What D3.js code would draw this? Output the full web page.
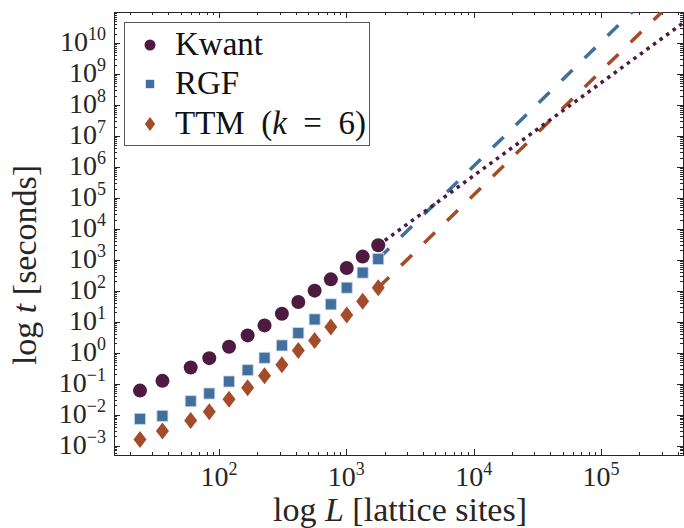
<!DOCTYPE html>
<html>
<head>
<meta charset="utf-8">
<script src="https://cdn.jsdelivr.net/npm/d3@7/dist/d3.min.js"></script>
<style>
  body { margin: 0; background: #fff; }
  svg { display: block; }
</style>
</head>
<body>
<svg id="chart" width="684" height="528"></svg>
<script>
// lattice sizes L and timings t (seconds)
const sizes = [24, 36, 60, 84, 120, 168, 228, 312, 420, 564, 756, 1008, 1344, 1782];
const kwant = [0.060, 0.124, 0.335, 0.668, 1.56, 3.63, 7.63, 18.2, 43.3, 101, 234, 544, 1270, 2945];
const rgf = [0.00735, 0.00919, 0.0272, 0.0483, 0.118, 0.274, 0.689, 1.72, 4.30, 11.9, 36.5, 126, 386, 1065];
const ttm = [0.00157, 0.0030, 0.00647, 0.01236, 0.0316, 0.0738, 0.180, 0.409, 1.19, 2.5, 6.72, 16.4, 45.6, 126];

// extrapolated fits [L, t]
const kwantFit = [[1782, 2945], [4.4e5, 4.4e10]];
const rgfFit = [[1782, 1065], [1.75e5, 1e11]];
const ttmFit = [[1782, 126], [3.0e5, 1e11]];

const xTickExp = [2, 3, 4, 5];
const yTickExp = [-3, -2, -1, 0, 1, 2, 3, 4, 5, 6, 7, 8, 9, 10];

const colors = { kwant: '#4f1a3f', rgf: '#41709e', ttm: '#a44b29' };
const FONT = "'Liberation Serif', 'DejaVu Serif', serif";

const svg = d3.select('#chart')
    .attr('font-family', FONT);
const plot = { left: 114, right: 683, top: 12, bottom: 455 };

const x = d3.scaleLog().domain([15, 4.4e5]).range([plot.left, plot.right]);
const y = d3.scaleLog().domain([5e-4, 1e11]).range([plot.bottom, plot.top]);

svg.append('defs').append('clipPath').attr('id', 'clip')
    .append('rect')
    .attr('x', plot.left).attr('y', plot.top)
    .attr('width', plot.right - plot.left).attr('height', plot.bottom - plot.top);

// ticks (inside, all four sides)
const axisColor = '#262626';
const ticks = svg.append('g').attr('stroke', axisColor).attr('stroke-width', 1);

const xMinor = [];
for (let e = 1; e <= 5; e++) for (let m = 2; m <= 9; m++) {
    const v = m * Math.pow(10, e);
    if (v > x.domain()[0] && v < x.domain()[1]) xMinor.push(v);
}
const yMinor = [];
for (let e = -4; e <= 10; e++) for (let m = 2; m <= 9; m++) {
    const v = m * Math.pow(10, e);
    if (v > y.domain()[0] && v < y.domain()[1]) yMinor.push(v);
}

const xTicks = xTickExp.map(e => ({ v: Math.pow(10, e), len: 6 }))
    .concat(xMinor.map(v => ({ v, len: 3 })));
const yTicks = yTickExp.map(e => ({ v: Math.pow(10, e), len: 6 }))
    .concat(yMinor.map(v => ({ v, len: 3 })));

ticks.selectAll('.xb').data(xTicks).enter().append('line')
    .attr('x1', d => Math.round(x(d.v)) + 0.5).attr('x2', d => Math.round(x(d.v)) + 0.5)
    .attr('y1', plot.bottom).attr('y2', d => plot.bottom - d.len);
ticks.selectAll('.xt').data(xTicks).enter().append('line')
    .attr('x1', d => Math.round(x(d.v)) + 0.5).attr('x2', d => Math.round(x(d.v)) + 0.5)
    .attr('y1', plot.top).attr('y2', d => plot.top + d.len);
ticks.selectAll('.yl').data(yTicks).enter().append('line')
    .attr('y1', d => Math.round(y(d.v)) + 0.5).attr('y2', d => Math.round(y(d.v)) + 0.5)
    .attr('x1', plot.left).attr('x2', d => plot.left + d.len);
ticks.selectAll('.yr').data(yTicks).enter().append('line')
    .attr('y1', d => Math.round(y(d.v)) + 0.5).attr('y2', d => Math.round(y(d.v)) + 0.5)
    .attr('x1', plot.right).attr('x2', d => plot.right - d.len);

svg.append('rect')
    .attr('x', plot.left + 0.5).attr('y', plot.top + 0.5)
    .attr('width', plot.right - plot.left).attr('height', plot.bottom - plot.top)
    .attr('fill', 'none').attr('stroke', axisColor).attr('stroke-width', 1);

// tick labels
const expText = e => (e < 0 ? '\u2212' + (-e) : String(e));

const xl = svg.append('g').selectAll('text').data(xTickExp).enter().append('text')
    .attr('font-family', FONT).attr('fill', axisColor)
    .attr('x', d => x(Math.pow(10, d)))
    .attr('y', 486)
    .attr('text-anchor', 'middle')
    .attr('font-size', 28);
xl.append('tspan').text('10');
xl.append('tspan').attr('dy', -11).attr('font-size', 18).text(d => expText(d));

const yl = svg.append('g').selectAll('text').data(yTickExp).enter().append('text')
    .attr('font-family', FONT).attr('fill', axisColor)
    .attr('x', 106)
    .attr('y', d => y(Math.pow(10, d)) + 8)
    .attr('text-anchor', 'end')
    .attr('font-size', 28);
yl.append('tspan').text('10');
yl.append('tspan').attr('dy', -11).attr('font-size', 18).text(d => expText(d));

// axis titles
const xt = svg.append('text')
    .attr('font-family', FONT).attr('fill', axisColor)
    .attr('x', 400).attr('y', 521)
    .attr('text-anchor', 'middle').attr('font-size', 34);
xt.append('tspan').text('log ');
xt.append('tspan').attr('font-style', 'italic').text('L');
xt.append('tspan').text(' [lattice sites]');

const yt = svg.append('text')
    .attr('font-family', FONT).attr('fill', axisColor)
    .attr('transform', 'translate(36,265) rotate(-90)')
    .attr('text-anchor', 'middle').attr('font-size', 34);
yt.append('tspan').text('log ');
yt.append('tspan').attr('font-style', 'italic').text('t');
yt.append('tspan').text(' [seconds]');

// fit lines
const line = d3.line().x(d => x(d[0])).y(d => y(d[1]));
const fits = svg.append('g').attr('clip-path', 'url(#clip)').attr('fill', 'none');
fits.append('path').datum(rgfFit).attr('d', line)
    .attr('stroke', colors.rgf).attr('stroke-width', 3.5).attr('stroke-dasharray', '15,17');
fits.append('path').datum(ttmFit).attr('d', line)
    .attr('stroke', colors.ttm).attr('stroke-width', 3.5).attr('stroke-dasharray', '15,17');
fits.append('path').datum(kwantFit).attr('d', line)
    .attr('stroke', colors.kwant).attr('stroke-width', 3.5).attr('stroke-dasharray', '3.5,4.6');

// markers
const pts = (vals) => sizes.map((L, i) => [L, vals[i]]);
const marks = svg.append('g');

marks.selectAll('.ttm').data(pts(ttm)).enter().append('path')
    .attr('transform', d => `translate(${x(d[0])},${y(d[1])})`)
    .attr('d', 'M0,-8.5L6.5,0L0,8.5L-6.5,0Z')
    .attr('fill', colors.ttm);

marks.selectAll('.rgf').data(pts(rgf)).enter().append('rect')
    .attr('x', d => x(d[0]) - 5.5).attr('y', d => y(d[1]) - 5.5)
    .attr('width', 11).attr('height', 11)
    .attr('fill', colors.rgf).attr('stroke', '#c8d4e2').attr('stroke-width', 0.8);

marks.selectAll('.kwant').data(pts(kwant)).enter().append('circle')
    .attr('cx', d => x(d[0])).attr('cy', d => y(d[1]))
    .attr('r', 7)
    .attr('fill', colors.kwant);

// legend
const legend = svg.append('g');
legend.append('rect')
    .attr('x', 124.5).attr('y', 22.5).attr('width', 245).attr('height', 123)
    .attr('fill', '#fff').attr('stroke', '#555').attr('stroke-width', 1);

const legendItems = [
    { key: 'kwant', label: 'Kwant' },
    { key: 'rgf', label: 'RGF' },
    { key: 'ttm', label: 'TTM' }
];
const ly = [45, 84, 124];
legendItems.forEach((it, i) => {
    const g = legend.append('g').attr('transform', `translate(150,${ly[i]})`);
    if (it.key === 'kwant') g.append('circle').attr('r', 5.5).attr('fill', colors.kwant);
    if (it.key === 'rgf') g.append('rect').attr('x', -4.2).attr('y', -4.2).attr('width', 8.4).attr('height', 8.4).attr('fill', colors.rgf);
    if (it.key === 'ttm') g.append('path').attr('d', 'M0,-7L5.2,0L0,7L-5.2,0Z').attr('fill', colors.ttm);
    const t = legend.append('text')
        .attr('font-family', FONT)
        .attr('x', 175).attr('y', ly[i] + 10).attr('font-size', 33).attr('fill', '#111');
    t.append('tspan').text(it.label);
    if (it.key === 'ttm') {
        t.append('tspan').text('\u2002(');
        t.append('tspan').attr('font-style', 'italic').text('k');
        t.append('tspan').text('\u2002=\u20026)');
    }
});
</script>
</body>
</html>
